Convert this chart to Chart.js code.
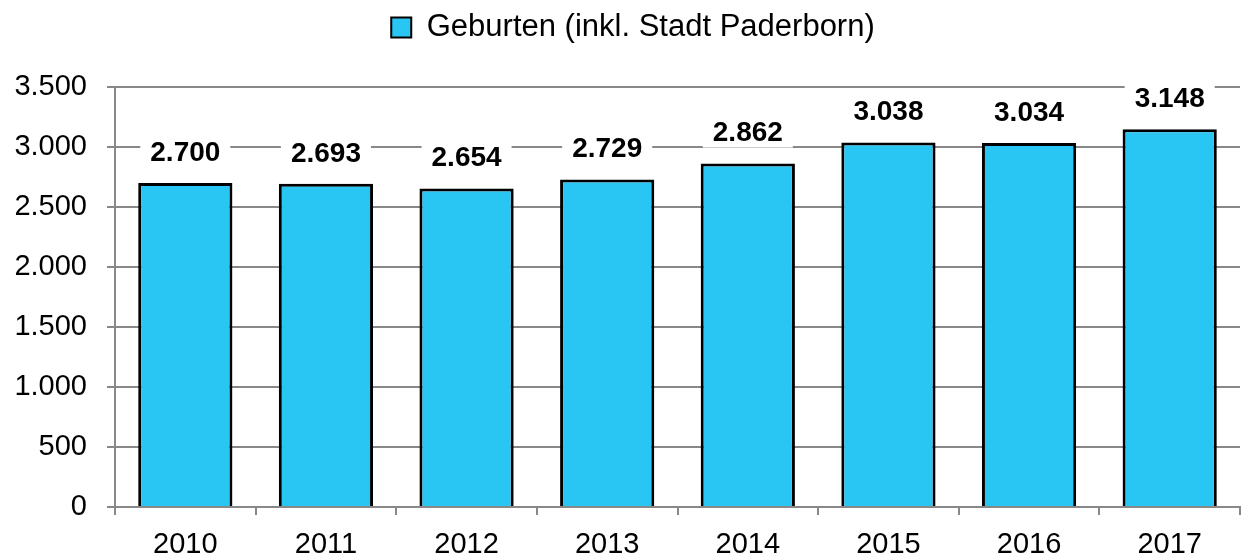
<!DOCTYPE html>
<html>
<head>
<meta charset="utf-8">
<script src="https://cdn.jsdelivr.net/npm/chart.js@4/dist/chart.umd.min.js"></script>
<style>
html,body{margin:0;padding:0;background:#fff;}
#wrap{width:1242px;height:558px;position:relative;}
</style>
</head>
<body>
<div id="wrap"><canvas id="c" width="1242" height="558"></canvas></div>
<script>
const categories = ['2010','2011','2012','2013','2014','2015','2016','2017'];
const births = [2700, 2693, 2654, 2729, 2862, 3038, 3034, 3148];
const seriesName = 'Geburten (inkl. Stadt Paderborn)';
const yTicks = [0, 500, 1000, 1500, 2000, 2500, 3000, 3500];

const FONT = "'Liberation Sans', Arial, sans-serif";

const labelPlugin = {
  id: 'valueLabels',
  afterDatasetsDraw(chart) {
    const ctx = chart.ctx;
    const meta = chart.getDatasetMeta(0);
    ctx.save();
    ctx.font = 'bold 28px ' + FONT;
    ctx.textAlign = 'center';
    ctx.textBaseline = 'middle';
    meta.data.forEach((bar, i) => {
      const v = chart.data.datasets[0].data[i];
      const txt = v.toLocaleString('de-DE');
      const w = ctx.measureText(txt).width;
      const cy = bar.y - 31;
      ctx.fillStyle = '#ffffff';
      ctx.fillRect(bar.x - w / 2 - 10, cy - 15, w + 20, 30);
      ctx.fillStyle = '#000000';
      ctx.fillText(txt, bar.x, cy + 1);
    });
    ctx.restore();
  }
};

const legendFix = {
  id: 'legendFix',
  afterInit(chart) {
    const lg = chart.legend;
    if (!lg) return;
    const origFit = lg.fit.bind(lg);
    lg.fit = function () { origFit(); this.height = 87; };
  },
  afterUpdate(chart) {
    const lg = chart.legend;
    if (!lg) return;
    lg.left += 13;
    lg.right += 13;
  }
};

new Chart(document.getElementById('c'), {
  type: 'bar',
  data: {
    labels: categories,
    datasets: [{
      label: seriesName,
      data: births,
      backgroundColor: '#29C5F3',
      borderColor: '#000000',
      borderWidth: 3,
      borderSkipped: 'start',
      barPercentage: 0.67,
      categoryPercentage: 1.0
    }]
  },
  options: {
    responsive: false,
    animation: false,
    devicePixelRatio: 1,
    layout: { padding: { left: 0, right: 2, top: 0, bottom: 0 } },
    plugins: {
      legend: {
        display: true,
        position: 'top',
        labels: {
          font: { family: FONT, size: 31 },
          color: '#000000',
          boxWidth: 20,
          boxHeight: 20,
          padding: 12,
          generateLabels(chart) {
            return [{
              text: seriesName,
              fillStyle: '#29C5F3',
              strokeStyle: '#000000',
              lineWidth: 2,
              datasetIndex: 0,
              hidden: false
            }];
          }
        }
      },
      tooltip: { enabled: false }
    },
    scales: {
      x: {
        offset: true,
        grid: {
          offset: true,
          drawOnChartArea: false,
          drawTicks: true,
          tickLength: 8,
          color: '#888888',
          lineWidth: 2
        },
        border: { display: true, color: '#888888', width: 2 },
        ticks: {
          font: { family: FONT, size: 29 },
          color: '#000000',
          padding: 13,
          maxRotation: 0
        },
        afterFit(scale) { scale.height = 51; }
      },
      y: {
        min: 0,
        max: 3500,
        afterBuildTicks(scale) { scale.ticks = yTicks.map(v => ({ value: v })); },
        grid: {
          color: '#888888',
          lineWidth: 2,
          tickLength: 8
        },
        border: { display: true, color: '#888888', width: 2 },
        ticks: {
          font: { family: FONT, size: 29 },
          color: '#000000',
          padding: 20,
          callback(v) { return Number(v).toLocaleString('de-DE'); }
        },
        afterFit(scale) { scale.width = 115; }
      }
    }
  },
  plugins: [labelPlugin, legendFix]
});
</script>
</body>
</html>
